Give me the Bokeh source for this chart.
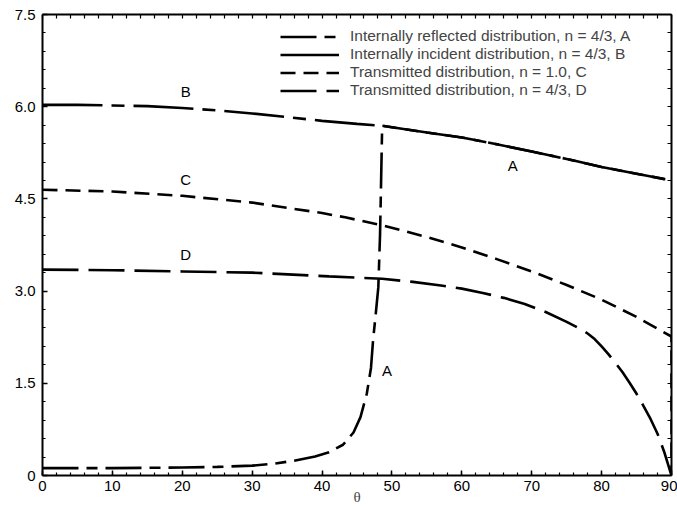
from bokeh.plotting import figure
from bokeh.models import (Range1d, FixedTicker, LinearAxis, Legend, LegendItem,
                          ColumnDataSource)
from bokeh.core.properties import value
from bokeh.embed import file_html
from bokeh.resources import INLINE

# ---- data ----
theta_B = [0, 5, 10, 15, 20, 25, 30, 35, 40, 45, 48.6, 55, 60, 65, 70, 75, 80, 85, 90]
B = [6.03, 6.03, 6.02, 6.01, 5.98, 5.94, 5.89, 5.83, 5.77, 5.72, 5.69, 5.58, 5.50,
     5.39, 5.27, 5.15, 5.02, 4.91, 4.80]

theta_A_rise = [0, 10, 20, 25, 30, 33, 36, 39, 41, 43, 44.5, 45.5, 46.4, 47, 47.3,
                47.7, 48.05, 48.3, 48.45, 48.6]
A_rise = [0.12, 0.12, 0.13, 0.14, 0.16, 0.19, 0.24, 0.31, 0.38, 0.50, 0.70, 0.95,
          1.33, 1.75, 2.20, 2.65, 3.06, 3.93, 4.80, 5.69]
critical_angle = 48.6

theta_C = [0, 10, 20, 30, 40, 43.3, 48.6, 55, 60, 65, 70, 75, 80, 85, 90, 90]
C = [4.65, 4.62, 4.55, 4.44, 4.27, 4.20, 4.07, 3.88, 3.71, 3.52, 3.32, 3.10, 2.86,
     2.58, 2.26, 0.0]

theta_D = [0, 10, 20, 30, 41, 48.6, 53, 57, 60, 63, 66, 69, 72, 75, 77, 78, 79, 80,
           81, 82, 83, 84, 85, 86, 87, 88, 89, 90]
D = [3.35, 3.34, 3.32, 3.30, 3.24, 3.20, 3.15, 3.09, 3.04, 2.97, 2.89, 2.79, 2.66,
     2.50, 2.38, 2.31, 2.22, 2.10, 1.97, 1.83, 1.68, 1.51, 1.33, 1.13, 0.92, 0.68,
     0.37, 0.0]

series_labels = ["Internally reflected distribution, n = 4/3, A",
                 "Internally incident distribution, n = 4/3, B",
                 "Transmitted distribution, n = 1.0, C",
                 "Transmitted distribution, n = 4/3, D"]

curve_label_text = ["B", "C", "D", "A", "A"]
curve_label_x = [20.5, 20.5, 20.5, 67.3, 49.3]
curve_label_y = [6.24, 4.81, 3.59, 5.04, 1.71]

x_major = [0, 10, 20, 30, 40, 50, 60, 70, 80, 90]
x_minor = list(range(0, 91, 2))
y_major = [0, 1.5, 3.0, 4.5, 6.0, 7.5]
y_major_labels = ["0", "1.5", "3.0", "4.5", "6.0", "7.5"]
y_minor = [round(0.3 * i, 2) for i in range(26)]

# A follows B beyond the critical angle (total internal reflection)
theta_A = theta_A_rise + [t for t in theta_B if t > critical_angle]
A = A_rise + [b for t, b in zip(theta_B, B) if t > critical_angle]

FONT = "Liberation Sans"

p = figure(width=677, height=509, output_backend="svg", toolbar_location=None,
           x_range=Range1d(0, 90), y_range=Range1d(0, 7.5),
           min_border_left=42, min_border_right=6, min_border_top=14,
           min_border_bottom=34, background_fill_color="white",
           border_fill_color="white")
p.grid.visible = False
p.outline_line_color = None

lw = 2.6
rA = p.line(theta_A, A, line_color="black", line_width=lw, line_dash="36 8 11 8")
rB = p.line(theta_B, B, line_color="black", line_width=lw, line_dash="60 9 13 9")
rC = p.line(theta_C, C, line_color="black", line_width=lw, line_dash="15 8")
rD = p.line(theta_D, D, line_color="black", line_width=lw, line_dash="36 10")

src = ColumnDataSource(dict(x=curve_label_x, y=curve_label_y, t=curve_label_text))
p.text(x="x", y="y", text="t", source=src, text_align="center",
       text_baseline="middle", text_font=value(FONT), text_font_size="15px",
       text_color="black")


def style_common(ax):
    ax.axis_line_width = 2
    ax.axis_line_color = "black"
    ax.major_tick_out = 0
    ax.minor_tick_out = 0
    ax.major_tick_line_width = 1.5
    ax.minor_tick_line_width = 1.2
    ax.major_tick_line_color = "black"
    ax.minor_tick_line_color = "black"


def style_labeled_axis(ax, ticks, minor):
    ax.ticker = FixedTicker(ticks=ticks, minor_ticks=minor)
    style_common(ax)
    ax.major_tick_in = 5
    ax.minor_tick_in = 3
    ax.major_label_text_font = FONT
    ax.major_label_text_font_size = "15px"
    ax.major_label_text_color = "black"
    ax.major_label_standoff = 5


def style_mirror_axis(ax, minor):
    # mirrored frame side: tick marks only, no labels
    ax.ticker = FixedTicker(ticks=[], minor_ticks=minor)
    style_common(ax)
    ax.major_tick_in = 0
    ax.minor_tick_in = 4
    ax.major_label_standoff = 0


xa = p.xaxis[0]
style_labeled_axis(xa, x_major, x_minor)
xa.axis_label = "θ"
xa.axis_label_text_font = "Liberation Serif"
xa.axis_label_text_font_style = "normal"
xa.axis_label_text_font_size = "15px"
xa.axis_label_standoff = -5

ya = p.yaxis[0]
style_labeled_axis(ya, y_major, y_minor)
ya.major_label_standoff = 7
ya.major_label_overrides = {v: s for v, s in zip(y_major, y_major_labels)}

top = LinearAxis()
style_mirror_axis(top, x_minor)
p.add_layout(top, "above")
right = LinearAxis()
style_mirror_axis(right, y_minor)
p.add_layout(right, "right")

legend = Legend(items=[LegendItem(label=series_labels[0], renderers=[rA]),
                       LegendItem(label=series_labels[1], renderers=[rB]),
                       LegendItem(label=series_labels[2], renderers=[rC]),
                       LegendItem(label=series_labels[3], renderers=[rD])],
                location=(238, 376), padding=0, margin=0, spacing=0,
                glyph_width=59, glyph_height=17, label_height=17,
                label_standoff=11, label_text_font=FONT,
                label_text_font_size="15.5px", border_line_color=None,
                background_fill_alpha=0)
p.add_layout(legend)

open("out.html", "w").write(file_html(p, INLINE))
